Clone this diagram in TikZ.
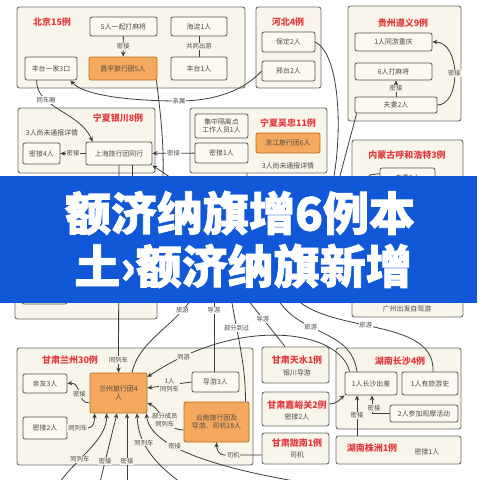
\documentclass[tikz,border=0pt]{standalone}
\usepackage{fontspec}
\setmainfont{Noto Sans CJK SC}
\newfontfamily\banfont{Noto Sans CJK SC}[BoldFeatures={FakeBold=1.6}]
\usetikzlibrary{arrows.meta,calc}
\definecolor{grpf}{HTML}{F8F6EA}
\definecolor{grpc}{HTML}{6B6B66}
\definecolor{boxf}{HTML}{FBF9F1}
\definecolor{boxc}{HTML}{555550}
\definecolor{orf}{HTML}{F5A95E}
\definecolor{orc}{HTML}{B5701F}
\definecolor{ttlc}{HTML}{E23A3F}
\definecolor{txtc}{HTML}{4A4A45}
\definecolor{linec}{HTML}{3C3C3A}
\definecolor{bann}{HTML}{1158D8}
\begin{document}
\begin{tikzpicture}[x=1pt,y=-1pt,
 grp/.style={draw=grpc,fill=grpf,line width=0.9pt,rounded corners=2.5pt,inner sep=0pt},
 ibox/.style={draw=boxc,fill=boxf,line width=0.8pt,rounded corners=2pt,inner sep=0pt,text=txtc,font=\fontsize{6.9}{8}\selectfont,align=center},
 obox/.style={ibox,draw=orc,fill=orf},
 ttl/.style={text=ttlc,font=\fontsize{9}{10}\selectfont\bfseries,inner sep=0pt},
 txt/.style={text=txtc,font=\fontsize{6.9}{8}\selectfont,inner sep=0pt,align=center},
 lbl/.style={text=txtc,font=\fontsize{6.3}{7.5}\selectfont,fill=grpf,inner sep=0.8pt,align=center},
 lblw/.style={lbl,fill=white},
 con/.style={draw=linec,line width=0.8pt},
 arr/.style={con,-{Stealth[length=5pt,width=4.5pt]}},
 bant/.style={text=white,font=\fontsize{46}{50}\selectfont\banfont\bfseries,inner sep=0pt}
]
\useasboundingbox (0,0) rectangle (480,480);
\fill[white] (0,0) rectangle (480,480);

% groups
\node[grp,minimum width=228,minimum height=81] (gBJ) at (131,47.5) {};
\node[grp,minimum width=65,minimum height=81] (gHB) at (288.5,47.5) {};
\node[grp,minimum width=113,minimum height=115] (gGZ) at (404.5,63.5) {};
\node[grp,minimum width=137,minimum height=65] (gYC) at (86.5,140.5) {};
\node[grp,minimum width=137,minimum height=65] (gWZ) at (258.5,140.5) {};
\node[grp,minimum width=111,minimum height=177] (gNM) at (407.5,228.5) {};
\node[grp,minimum width=142,minimum height=129] (gMid) at (86,254.5) {};
\node[grp,minimum width=236,minimum height=117] (gLZ) at (135,406.5) {};
\node[grp,minimum width=67,minimum height=36] (gTS) at (295.5,365) {};
\node[grp,minimum width=67,minimum height=34] (gJYG) at (295.5,409) {};
\node[grp,minimum width=67,minimum height=31] (gLN) at (295.5,448.5) {};
\node[grp,minimum width=125,minimum height=81] (gCS) at (398.5,388.5) {};
\node[grp,minimum width=125,minimum height=28] (gZZ) at (398.5,450) {};

% inner boxes
\node[ibox,minimum width=67,minimum height=19] (m5) at (123.5,26.5) {5人一起打麻将};
\node[ibox,minimum width=56,minimum height=19] (hd) at (199,26.5) {海淀1人};
\node[ibox,minimum width=52,minimum height=23] (ft3) at (51,68.5) {丰台一家3口};
\node[obox,minimum width=68,minimum height=23] (cp) at (123,68.5) {昌平旅行团5人};
\node[ibox,minimum width=56,minimum height=23] (ft1) at (199,68.5) {丰台1人};
\node[ibox,minimum width=53,minimum height=20] (bd) at (288.5,42) {保定2人};
\node[ibox,minimum width=53,minimum height=20] (xt) at (288.5,71) {邢台2人};
\node[ibox,minimum width=77,minimum height=18] (cq) at (393.5,42) {1人同游重庆};
\node[ibox,minimum width=77,minimum height=17] (mj6) at (393.5,71.5) {6人打麻将};
\node[ibox,minimum width=82,minimum height=16] (fq) at (396,105) {夫妻2人};
\node[ibox,minimum width=37,minimum height=21] (mj4) at (41.5,153.5) {密接4人};
\node[ibox,minimum width=66,minimum height=23] (sh) at (119,153.5) {上海旅行团同行};
\node[ibox,minimum width=53,minimum height=24] (gl) at (221.5,126) {集中隔离点\\工作人员1人};
\node[ibox,minimum width=53,minimum height=20] (mj1) at (221.5,153) {密接1人};
\node[obox,minimum width=64,minimum height=20] (zj) at (288,143) {浙江旅行团6人};
\node[ibox,minimum width=55,minimum height=20] (nmfq) at (407.5,178) {夫妻2人};
\node[ibox,minimum width=45,minimum height=20] (midb) at (44.5,294) {};
\node[ibox,minimum width=44,minimum height=19] (qy) at (45,383.5) {亲友3人};
\node[ibox,minimum width=44,minimum height=22] (mj2) at (45,428) {密接2人};
\node[obox,minimum width=57,minimum height=40] (lz) at (118.5,393) {兰州旅行团4\\人};
\node[ibox,minimum width=47,minimum height=20] (dy) at (215.5,382) {导游3人};
\node[obox,minimum width=65,minimum height=40] (yn) at (216.5,422) {云南旅行团及\\导游、司机18人};
\node[ibox,minimum width=52,minimum height=23] (cs) at (371,383.5) {1人长沙出差};
\node[ibox,minimum width=56,minimum height=23] (ly) at (430,383.5) {1人有旅游史};
\node[ibox,minimum width=68,minimum height=17] (gm) at (424,413.5) {2人参加观摩活动};

% titles and texts
\node[ttl] (t1) at (52,22) {北京15例};
\node[ttl] (t2) at (288,22) {河北4例};
\node[ttl] (t3) at (403,23) {贵州遵义9例};
\node[ttl] (t4) at (118,118) {宁夏银川8例};
\node[ttl] (t5) at (288,123) {宁夏吴忠11例};
\node[ttl] (t6) at (407,155) {内蒙古呼和浩特3例};
\node[ttl] (t7) at (70,360) {甘肃兰州30例};
\node[ttl] (t8) at (297,360) {甘肃天水1例};
\node[ttl] (t9) at (297,405) {甘肃嘉峪关2例};
\node[ttl] (t10) at (297,443) {甘肃陇南1例};
\node[ttl] (t11) at (400,361) {湖南长沙4例};
\node[ttl] (t12) at (372,448) {湖南株洲1例};
\node[txt] (x1) at (52,133) {3人尚未通报详情};
\node[txt] (x2) at (288,166) {3人尚未通报详情};
\node[txt] (x3) at (407,309) {广州出发自驾游};
\node[txt] (x4) at (297,373) {银川导游};
\node[txt] (x5) at (297,417) {密接2人};
\node[txt] (x6) at (297,455) {司机};
\node[txt] (x7) at (427,452) {密接1人};

% connectors top
\draw[arr] (m5) -- node[lbl]{密接} (cp);
\draw[con] (hd) -- node[lbl]{共同出游} (ft1);
\draw[arr] (xt.west) .. controls (240,95) and (205,101) .. (179,101) node[lblw]{亲属} .. controls (140,101) and (85,97) .. ($(ft3.south east)+(-7,0)$);
\draw[arr] ($(ft3.south west)+(12,0)$) .. controls (36,108) and (80,112) .. node[lblw,pos=0.3]{同车厢} ($(sh.north west)+(7,0)$);
\draw[arr] (sh) -- node[lbl]{密接} (mj4);
\draw[arr] (mj1) -- node[lblw]{密接} (sh);
\draw[con] ($(cp.south east)+(-1,0)$) .. controls (160,110) and (164,140) .. (163,176) -- (163,230);
\draw[con] ($(sh.south)+(13,0)$) -- (132,230);
\draw[arr] (192,192) -- (sh.south east);
\draw[con] (bd.east) .. controls (340,55) and (342,130) .. (334,176) -- (332,230);
\draw[con] ($(fq.south west)+(2,0)$) -- (340,176) -- (335,220);
\draw[con] ($(nmfq.north west)+(0,6)$) -- (370,175) -- (350,200);
\draw[arr] (fq.north) -- node[lbl]{密接} (fq.north |- mj6.south);
\draw[arr] (fq.east) .. controls (461,105) and (461,42) .. node[lbl,pos=0.5]{密接} (cq.east);
\draw[con] ($(gWZ.south)+(-11.5,0)$) -- (245,230);

% connectors bottom
\draw[arr] (sh.south) -- node[lbl,pos=0.94]{同列车} (lz.north);
\draw[con] (200,280) .. controls (190,320) and (140,335) .. node[lblw,pos=0.3]{旅游} ($(lz.north)+(13.5,0)$);
\draw[con] (214,260) -- node[lblw,pos=0.45]{导游} ($(dy.north)+(-1.5,0)$);
\draw[con] (225,260) .. controls (235,330) and (246,360) .. node[lblw,pos=0.4]{部分到过} ($(yn.north east)+(-4,0)$);
\draw[con] (240,290) -- node[lblw,pos=0.51]{导游} ($(gTS.north)+(-10.5,0)$);
\draw[con] (270,280) .. controls (285,340) and (350,322) .. node[lblw,pos=0.45]{旅游} ($(cs.north)+(-14,0)$);
\draw[con] (285,280) .. controls (300,340) and (436,310) .. node[lblw,pos=0.5]{旅游} ($(ly.north)+(3,0)$);
\draw[arr] ($(cs.north west)+(5,0)$) .. controls (340,330) and (240,315) .. node[lbl,pos=0.87]{同游} ($(lz.east)+(0,-16)$);
\draw[arr] (dy.west) -- node[lbl]{1人\\同列车} ($(lz.east)+(0,-5)$);
\draw[arr] ($(yn.west)+(0,8)$) .. controls (165,430) and (160,408) .. node[lbl,pos=0.45]{部分成员\\同列车} ($(lz.east)+(0,10)$);
\draw[arr] ($(lz.west)+(0,10)$) .. controls (76,403) and (82,382) .. node[lbl,pos=0.45]{密接} (qy.east);
\draw[arr] (mj2.east) -- node[lbl,pos=0.5]{同列车} (88,428) to[out=0,in=-90] ($(lz.south west)+(5,0)$);
\draw[arr] (60,482) .. controls (75,460) and (107,440) .. node[lbl,pos=0.35]{同列车} ($(lz.south west)+(17,0)$);
\draw[arr] (100,482) -- node[lbl,pos=0.3]{密接} ($(lz.south)+(-1.5,0)$);
\draw[arr] (127,482) -- node[lbl,pos=0.3]{密接} ($(lz.south)+(8.5,0)$);
\draw[arr] (180,482) .. controls (150,460) and (138,440) .. node[lbl,pos=0.6]{同列车} ($(lz.south)+(18.5,0)$);
\draw[arr] (300,482) .. controls (230,470) and (150,450) .. node[lbl,pos=0.65]{密接} ($(lz.south east)+(-1,0)$);
\draw[arr] ($(gLN.west)+(0,6.5)$) -- node[lbl,pos=0.75]{司机} (224,455) to[out=180,in=-90] (yn.south);
\draw[arr] ($(gJYG.east)+(0,-5)$) .. controls (338,404) and (341,398) .. (cs.south west);
\coordinate (csb) at ($(cs.south)+(-14,0)$);
\draw[arr] (gZZ.north -| csb) -- node[lbl]{密接} (csb);
\coordinate (csc) at ($(cs.south)+(1,0)$);
\draw[arr] (gm.west) -| (csc);
\node[lbl] (lgm) at (374,408) {密接};

% banner
\fill[bann] (0,176) rectangle (477,303);
\node[bant] (b1) at (240,213) {额济纳旗增6例本};
\node[bant] (b2) at (243,266) {土›额济纳旗新增};
\end{tikzpicture}
\end{document}
